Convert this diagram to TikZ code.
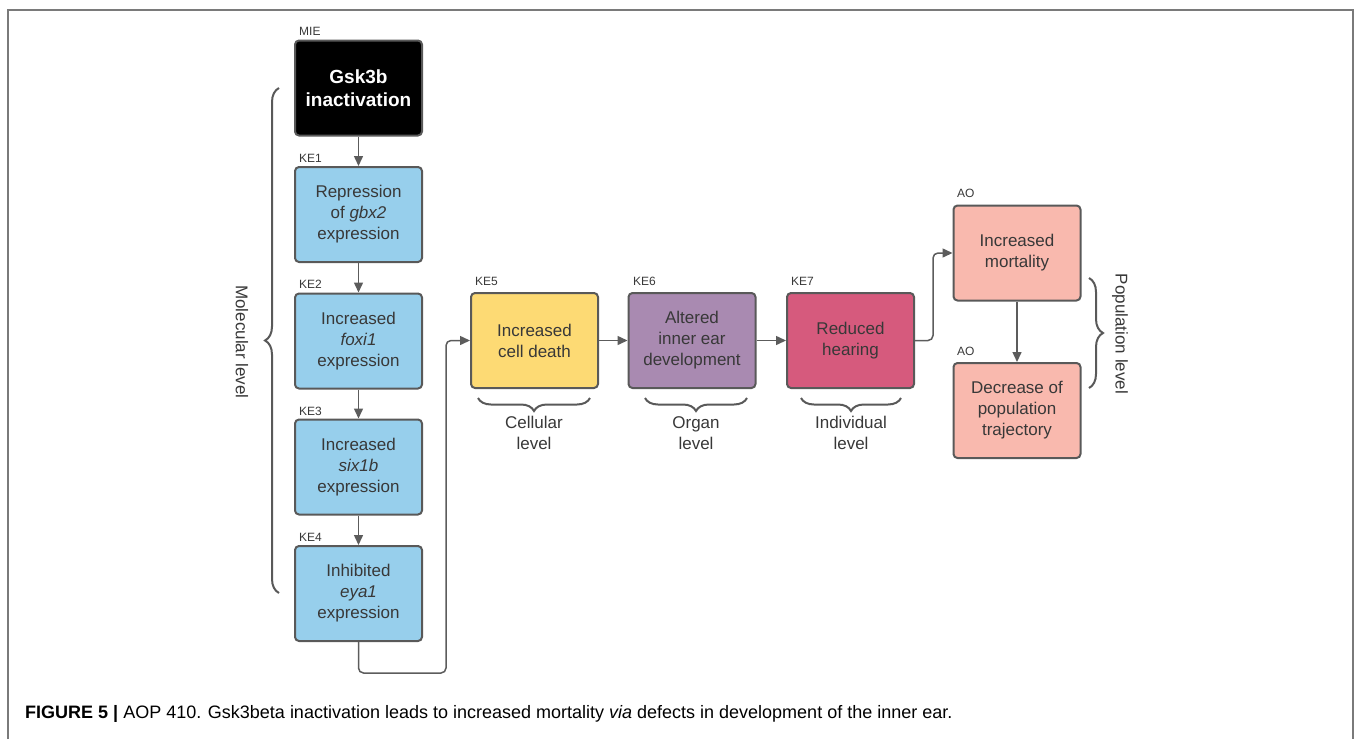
\documentclass[tikz,border=0pt]{standalone}
\usepackage{fontspec}
\setmainfont{Liberation Sans}
\usetikzlibrary{decorations.pathreplacing,arrows.meta}
\definecolor{framecol}{HTML}{7A7A7A}
\definecolor{bordercol}{HTML}{595959}
\definecolor{txtcol}{HTML}{383838}
\definecolor{arrcol}{HTML}{5C5C5C}
\definecolor{bluefill}{HTML}{97CFEC}
\definecolor{yellowfill}{HTML}{FDDA74}
\definecolor{purplefill}{HTML}{A98AB1}
\definecolor{crimsonfill}{HTML}{D65A7D}
\definecolor{salmonfill}{HTML}{F9B9AE}
\tikzset{
  evbox/.style={rectangle, rounded corners=4pt, draw=bordercol, line width=2pt,
    minimum width=127pt, minimum height=95pt, align=center, text=txtcol,
    font=\fontsize{17}{21}\selectfont, inner sep=0pt},
  lbl/.style={anchor=base west, text=txtcol, font=\fontsize{12}{14}\selectfont, inner sep=0pt},
  lvl/.style={text=txtcol, align=center, font=\fontsize{17}{21}\selectfont, inner sep=0pt},
  arr/.style={draw=arrcol, line width=1.5pt, -{Triangle[length=10pt,width=9pt]}, rounded corners=5pt},
  brc/.style={draw=bordercol, line width=2pt, decorate, decoration={brace, amplitude=14pt}}
}
\begin{document}
\begin{tikzpicture}[x=1pt,y=-1pt]
\useasboundingbox (0,0) rectangle (1356,739);
\draw[framecol, line width=1.5pt] (8,739) -- (8,10) -- (1353,10) -- (1353,739);

% boxes
\node[evbox, fill=black, text=white, font=\bfseries\fontsize{19}{23}\selectfont] (mie) at (358.5,88) {Gsk3b\\inactivation};
\node[evbox, fill=bluefill] (ke1) at (358.5,214.5) {Repression\\of \textit{gbx2}\\expression};
\node[evbox, fill=bluefill] (ke2) at (358.5,341) {Increased\\\textit{foxi1}\\expression};
\node[evbox, fill=bluefill] (ke3) at (358.5,467) {Increased\\\textit{six1b}\\expression};
\node[evbox, fill=bluefill] (ke4) at (358.5,593.5) {Inhibited\\\textit{eya1}\\expression};
\node[evbox, fill=yellowfill] (ke5) at (534.5,340.5) {Increased\\cell death};
\node[evbox, fill=purplefill] (ke6) at (692,340.5) {Altered\\inner ear\\development};
\node[evbox, fill=crimsonfill] (ke7) at (850.5,340.5) {Reduced\\hearing};
\node[evbox, fill=salmonfill] (ao1) at (1017,253) {Increased\\mortality};
\node[evbox, fill=salmonfill] (ao2) at (1017,410.5) {Decrease of\\population\\trajectory};

% labels
\node[lbl] (lmie) at (299,35) {MIE};
\node[lbl] (lke1) at (299,162) {KE1};
\node[lbl] (lke2) at (299,288) {KE2};
\node[lbl] (lke3) at (299,415) {KE3};
\node[lbl] (lke4) at (299,541) {KE4};
\node[lbl] (lke5) at (475,285) {KE5};
\node[lbl] (lke6) at (633,285) {KE6};
\node[lbl] (lke7) at (791,285) {KE7};
\node[lbl] (lao1) at (957,197) {AO};
\node[lbl] (lao2) at (957,355) {AO};

% connectors
\draw[arr] (mie.south) -- (ke1.north);
\draw[arr] (ke1.south) -- (ke2.north);
\draw[arr] (ke2.south) -- (ke3.north);
\draw[arr] (ke3.south) -- (ke4.north);
\coordinate (c1) at (446,673);
\draw[arr] (ke4.south) |- (c1) |- (ke5.west);
\draw[arr] (ke5.east) -- (ke6.west);
\draw[arr] (ke6.east) -- (ke7.west);
\coordinate (c2) at (933,253);
\draw[arr] (ke7.east) -| (c2) -- (ao1.west);
\draw[arr] (ao1.south) -- (ao2.north);

% braces
\draw[brc] (279,593) -- (279,88);
\node[lvl, rotate=-90] (tmol) at (242,342) {Molecular level};
\draw[brc, decoration={brace, amplitude=13pt}] (590,398) -- (478,398);
\node[lvl] (tcel) at (534,433) {Cellular\\level};
\draw[brc, decoration={brace, amplitude=13pt}] (747,398) -- (645,398);
\node[lvl] (torg) at (696,433) {Organ\\level};
\draw[brc, decoration={brace, amplitude=13pt}] (901,398) -- (801,398);
\node[lvl] (tind) at (851,433) {Individual\\level};
\draw[brc, decoration={brace, amplitude=14pt}] (1089,278) -- (1089,388);
\node[lvl, rotate=-90] (tpop) at (1120,334) {Population level};

% caption
\node[anchor=base west, inner sep=0pt, font=\fontsize{18}{21}\selectfont] (cap) at (25,718)
  {\textbf{FIGURE 5 |} AOP 410. Gsk3beta inactivation leads to increased mortality \textit{via} defects in development of the inner ear.};
\end{tikzpicture}
\end{document}
